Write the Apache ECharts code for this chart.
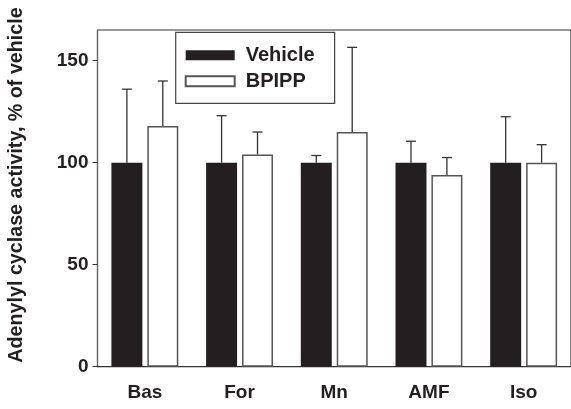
<!DOCTYPE html>
<html>
<head>
<meta charset="utf-8">
<script src="https://cdn.jsdelivr.net/npm/echarts@6/dist/echarts.min.js"></script>
<style>
html,body{margin:0;padding:0;background:#fff;}
#chart{width:571px;height:409px;}
</style>
</head>
<body>
<div id="chart"></div>
<script>
const categories = ['Bas', 'For', 'Mn', 'AMF', 'Iso'];
const vehicleValues = [100, 100, 100, 100, 100];
const vehicleErrors = [36, 23, 3.5, 10.5, 22.5];
const bpippValues = [118, 104, 115, 94, 100];
const bpippErrors = [22, 11, 41.5, 8.5, 8.8];
const yTicks = [0, 50, 100, 150];
const yTitle = 'Adenylyl cyclase activity, % of vehicle';

const FONT = '"Liberation Sans", Arial, sans-serif';
const TXT = '#231f20';
const BAR_RATIO = 0.327;
const GAP_RATIO = 0.16;

function errRender(values, errors, sign) {
  return function (params, api) {
    const i = api.value(0);
    const band = api.size([1, 0])[0];
    const bw = band * BAR_RATIO;
    const off = sign * bw * (1 + GAP_RATIO) / 2;
    const base = api.coord([i, values[i]]);
    const top = api.coord([i, values[i] + errors[i]]);
    const x = base[0] + off;
    const cap = 5;
    return {
      type: 'group',
      children: [
        {type: 'line', shape: {x1: x, y1: base[1], x2: x, y2: top[1]}, style: {stroke: '#333', lineWidth: 1.3}},
        {type: 'line', shape: {x1: x - cap, y1: top[1], x2: x + cap, y2: top[1]}, style: {stroke: '#333', lineWidth: 1.3}}
      ]
    };
  };
}

const chart = echarts.init(document.getElementById('chart'), null, {renderer: 'canvas'});
chart.setOption({
  animation: false,
  backgroundColor: '#fff',
  textStyle: {fontFamily: FONT},
  grid: {left: 97.5, top: 30, right: -8, bottom: 42.3, show: true, borderColor: '#333', borderWidth: 1.2, containLabel: false},
  legend: {
    orient: 'vertical',
    left: 175.7,
    top: 32.3,
    itemWidth: 49,
    itemHeight: 10,
    itemGap: 6,
    padding: [13, 20, 12, 9],
    borderColor: '#444',
    borderWidth: 1.2,
    icon: 'rect',
    textStyle: {fontFamily: FONT, fontWeight: 'bold', fontSize: 20, color: TXT, lineHeight: 20, padding: [0, 0, 0, 6]},
    data: ['Vehicle', 'BPIPP']
  },
  xAxis: {
    type: 'category',
    data: categories,
    axisLine: {lineStyle: {color: '#333', width: 1.2}},
    axisTick: {alignWithLabel: true, length: 5, lineStyle: {color: '#333'}},
    axisLabel: {margin: 17, fontFamily: FONT, fontWeight: 'bold', fontSize: 19, color: TXT}
  },
  yAxis: {
    type: 'value',
    min: 0,
    max: 165,
    interval: 50,
    splitLine: {show: false},
    axisLine: {show: true, lineStyle: {color: '#666', width: 1.2}},
    axisTick: {show: true, length: 5, customValues: yTicks, lineStyle: {color: '#333'}},
    axisLabel: {margin: 9, customValues: yTicks, fontFamily: FONT, fontWeight: 'bold', fontSize: 19, color: TXT}
  },
  graphic: [{
    type: 'text',
    x: 17, y: 185,
    rotation: Math.PI / 2,
    style: {text: yTitle, fontFamily: FONT, fontWeight: 'bold', fontSize: 19.7, fill: TXT, align: 'center', verticalAlign: 'middle'}
  }],
  series: [
    {
      name: 'Vehicle', type: 'bar', data: vehicleValues,
      barWidth: (BAR_RATIO * 100) + '%', barGap: (GAP_RATIO * 100) + '%',
      itemStyle: {color: '#231f20', borderColor: '#231f20', borderWidth: 0}
    },
    {
      name: 'BPIPP', type: 'bar', data: bpippValues,
      barWidth: (BAR_RATIO * 100) + '%', barGap: (GAP_RATIO * 100) + '%',
      itemStyle: {color: '#ffffff', borderColor: '#555', borderWidth: 1.5}
    },
    {
      type: 'custom', name: 'vehErr', data: categories.map((c, i) => [i]),
      renderItem: errRender(vehicleValues, vehicleErrors, -1), z: 1
    },
    {
      type: 'custom', name: 'bpErr', data: categories.map((c, i) => [i]),
      renderItem: errRender(bpippValues, bpippErrors, 1), z: 1
    }
  ]
});
</script>
</body>
</html>
